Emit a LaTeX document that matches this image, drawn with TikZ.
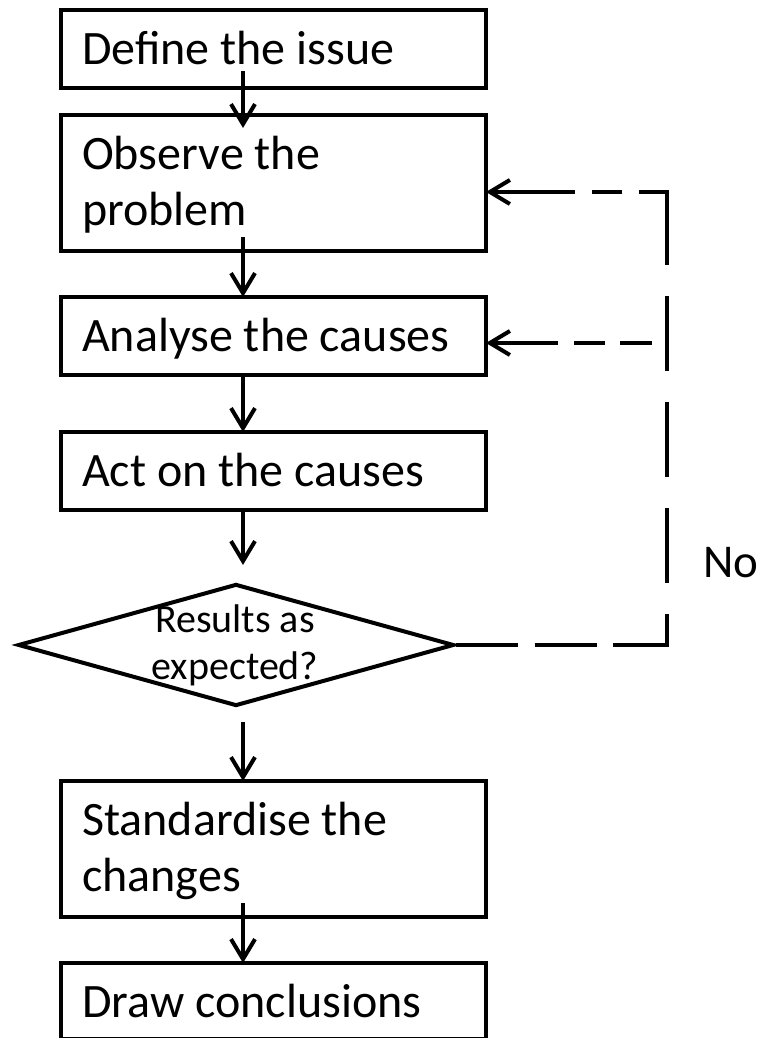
\documentclass[tikz,border=0pt]{standalone}
\usepackage{fontspec}
\setmainfont{Carlito}
\usetikzlibrary{arrows.meta,shapes.geometric,calc}
\begin{document}
\begin{tikzpicture}[x=1pt,y=1pt,
  stepbox/.style={draw, line width=4pt, minimum width=425pt, inner sep=0pt, outer sep=0pt},
  boxtext/.style={anchor=base west, inner sep=0pt, align=left, font=\fontsize{48}{56}\selectfont},
  flow/.style={line width=4pt, -{Straight Barb[length=20pt,width=24pt]}},
  loopline/.style={line width=4pt},
]
\useasboundingbox (0,0) rectangle (759,1038);
\clip (0,0) rectangle (759,1038);

% process boxes
\node[stepbox, minimum height=78pt]  (define) at (273.5,989) {};
\node[stepbox, minimum height=136pt] (obs)    at (273.5,855) {};
\node[stepbox, minimum height=78pt]  (ana)    at (273.5,702) {};
\node[stepbox, minimum height=78pt]  (act)    at (273.5,567) {};
\node[draw, diamond, line width=4pt, minimum width=436pt, minimum height=122pt, inner sep=0pt] (check) at (236,393) {};
\node[stepbox, minimum height=136pt] (std)    at (273.5,189) {};
\node[stepbox, minimum height=76pt]  (concl)  at (273.5,37) {};

% labels (the base anchor of a two-line label is its last line)
\node[boxtext] (defineT) at ($(define.north west)+(21,-55)$) {Define the issue};
\node[boxtext] (obsT)    at ($(obs.north west)+(21,-111)$)   {Observe the\\problem};
\node[boxtext] (anaT)    at ($(ana.north west)+(21,-55)$)    {Analyse the causes};
\node[boxtext] (actT)    at ($(act.north west)+(21,-55)$)    {Act on the causes};
\node[anchor=base, align=center, inner sep=0pt, font=\fontsize{40}{47}\selectfont] (checkT) at (235,358) {Results as\\expected?};
\node[boxtext] (stdT)    at ($(std.north west)+(21,-111)$)   {Standardise the\\changes};
\node[boxtext] (conclT)  at ($(concl.north west)+(21,-55)$)  {Draw conclusions};
\node[anchor=base west, inner sep=0pt, font=\fontsize{47}{56}\selectfont] (no) at (703,460) {No};

% main flow
\coordinate (col) at (243,0);
\draw[flow] ($(define.south -| col)+(0,17)$) -- ($(obs.north -| col)+(0,-13)$);
\draw[flow] ($(obs.south -| col)+(0,14)$) -- (ana.north -| col);
\draw[flow] (ana.south -| col) -- (act.north -| col);
\draw[flow] (act.south -| col) -- ($(check.north -| col)+(0,17)$);
\draw[flow] ($(check.south -| col)+(0,-14)$) -- (std.north -| col);
\draw[flow] ($(std.south -| col)+(0,14)$) -- (concl.north -| col);

% feedback loop
\coordinate (loopTop) at (667,846);
\coordinate (loopBot) at (check.east -| loopTop);
\coordinate (loopMid) at (652,695);
\draw[loopline, dash pattern=on 62pt off 16.5pt] (check.east) -- ($(loopBot)+(2,0)$);
\draw[loopline, dash pattern=on 75pt off 31pt] ($(loopTop)+(0,2)$) -- (loopBot);
\draw[flow, dash pattern=on 30pt off 17pt on 30pt off 17pt on 400pt off 0pt] ($(loopTop)+(2,0)$) -- (loopTop -| obs.east);
\draw[flow, dash pattern=on 32pt off 15pt on 31pt off 16pt on 400pt off 0pt] (loopMid) -- (loopMid -| ana.east);
\end{tikzpicture}
\end{document}
